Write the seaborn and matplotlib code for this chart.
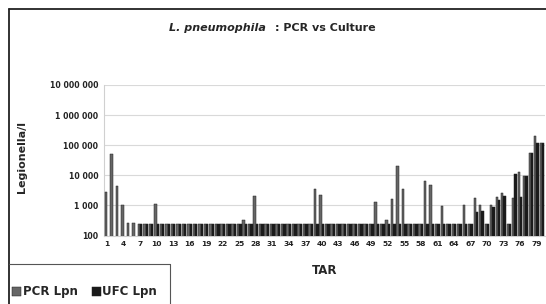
import numpy as np
import pandas as pd
import seaborn as sns
import matplotlib
matplotlib.use("Agg")
import matplotlib.pyplot as plt
from matplotlib.lines import Line2D

# ---------------- data ----------------
tar = list(range(1, 81))
pcr = [2700, 50000, 4400, 1050, 260, 260, 250, 250, 250, 1150,        # 1-10
       250, 250, 250, 250, 250, 250, 250, 250, 250, 250,              # 11-20
       250, 250, 250, 250, 250, 330, 250, 2000, 250, 250,             # 21-30
       250, 250, 250, 250, 250, 250, 250, 250, 3600, 2300,            # 31-40
       250, 250, 250, 250, 250, 250, 250, 250, 250, 1300,             # 41-50
       250, 330, 1600, 20000, 3400, 250, 250, 250, 6300, 4600,        # 51-60
       250, 950, 250, 250, 250, 1000, 250, 1700, 1000, 250,           # 61-70
       1000, 1900, 2600, 250, 1700, 13000, 9500, 53000, 205000, 120000]  # 71-80
ufc = [np.nan, np.nan, np.nan, np.nan, np.nan, np.nan, 250, 250, 250, 250,  # 1-10
       250, 250, 250, 250, 250, 250, 250, 250, 250, 250,              # 11-20
       250, 250, 250, 250, 250, 250, 250, 250, 250, 250,              # 21-30
       250, 250, 250, 250, 250, 250, 250, 250, 250, 250,              # 31-40
       250, 250, 250, 250, 250, 250, 250, 250, 250, 250,              # 41-50
       250, 250, 250, 250, 250, 250, 250, 250, 250, 250,              # 51-60
       250, 250, 250, 250, 250, 250, 250, 600, 650, 250,              # 61-70
       900, 1500, 2000, 250, 11000, 1900, 9500, 53000, 120000, 120000]  # 71-80
series_names = ["PCR Lpn", "UFC Lpn"]
y_ticks = [100, 1000, 10000, 100000, 1000000, 10000000]
y_tick_labels = ["100", "1 000", "10 000", "100 000", "1 000 000", "10 000 000"]
x_tick_labels = [str(t) for t in tar[::3]]

df = pd.DataFrame({
    "TAR": [str(t) for t in tar] * 2,
    "Method": [series_names[0]] * len(tar) + [series_names[1]] * len(tar),
    "Value": pcr + ufc,
})

# ---------------- figure ----------------
sns.set_style("white")
plt.rcParams["font.family"] = ["DejaVu Sans"]
fig = plt.figure(figsize=(5.46, 3.04), dpi=100)
ax = fig.add_axes([104 / 546, 1 - 235.5 / 304, 441 / 546, 150.5 / 304])

palette = {series_names[0]: "#666666", series_names[1]: "#1a1a1a"}
sns.barplot(data=df, x="TAR", y="Value", hue="Method", palette=palette,
            order=[str(t) for t in tar], hue_order=series_names,
            errorbar=None, width=0.86, edgecolor="#222222", linewidth=0.35,
            ax=ax, zorder=3)
ax.set_yscale("log")

ax.set_ylim(100, 10000000)
ax.set_xlim(-0.55, len(tar) - 0.45)
ax.set_yticks(y_ticks)
ax.set_yticklabels(y_tick_labels, fontsize=5.6, fontweight="bold", color="#222222")
ax.yaxis.set_minor_locator(matplotlib.ticker.NullLocator())
ax.set_xticks(list(range(0, len(tar), 3)))
ax.set_xticklabels(x_tick_labels, fontsize=5.4, fontweight="bold", color="#222222")
ax.tick_params(axis="both", length=0, pad=4)
ax.grid(axis="y", color="#d9d9d9", linewidth=0.8, zorder=0)
ax.grid(axis="x", visible=False)
ax.set_axisbelow(True)
for s in ["top", "right"]:
    ax.spines[s].set_visible(False)
ax.spines["left"].set_color("#d0d0d0")
ax.spines["left"].set_linewidth(0.8)
ax.spines["bottom"].set_color("#d0d0d0")
ax.spines["bottom"].set_linewidth(0.8)

ax.set_xlabel("TAR", fontsize=8.5, fontweight="bold", labelpad=12)
ax.set_ylabel("Legionella/l", fontsize=8, fontweight="bold", labelpad=12)
ax.yaxis.set_label_coords(-0.175, 0.52)

handles, labels = ax.get_legend_handles_labels()
ax.legend_.remove()
fig.legend(handles, labels, loc="center left", bbox_to_anchor=(12 / 546, 1 - 292 / 304),
           ncol=2, frameon=False, prop={"size": 8.5, "weight": "semibold"},
           handlelength=0.75, handleheight=0.75,
           handletextpad=0.15, columnspacing=1.2, borderaxespad=0, borderpad=0)

# title
fig.text(266 / 546, 1 - 28 / 304, "L. pneumophila", ha="right", va="center",
         fontsize=8, fontweight="bold", style="italic")
fig.text(275 / 546, 1 - 28 / 304, ": PCR vs Culture", ha="left", va="center",
         fontsize=8, fontweight="bold")

# chart frame and legend box
W, H = 546, 304
def fline(xs, ys, lw=1.3, c="#222222"):
    fig.add_artist(Line2D([x / W for x in xs], [1 - y / H for y in ys],
                          color=c, linewidth=lw, transform=fig.transFigure))
fline([9, 9], [9, 304])
fline([9, 546], [9, 9])
fline([9, 170], [264, 264], lw=0.8, c="#555555")
fline([170, 170], [264, 304], lw=0.8, c="#555555")

fig.savefig("out.png", dpi=100)
